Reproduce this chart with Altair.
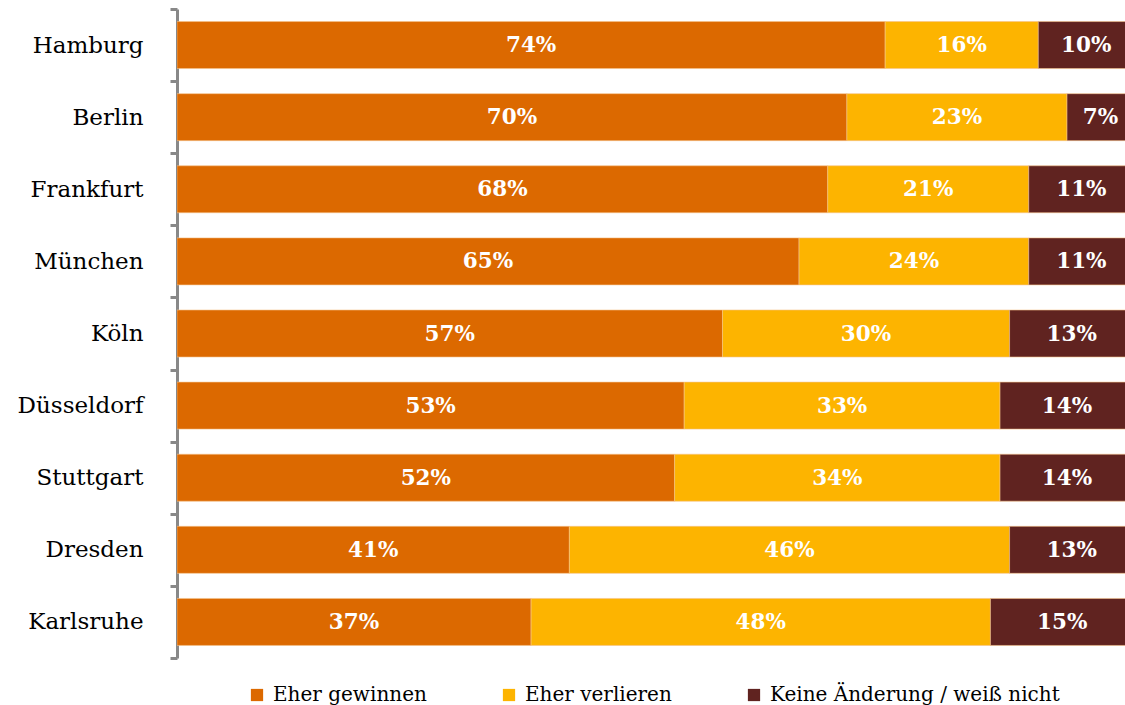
import altair as alt
import pandas as pd

cities = ["Hamburg", "Berlin", "Frankfurt", "München", "Köln", "Düsseldorf", "Stuttgart", "Dresden", "Karlsruhe"]
gewinnen = [74, 70, 68, 65, 57, 53, 52, 41, 37]
verlieren = [16, 23, 21, 24, 30, 33, 34, 46, 48]
keine = [10, 7, 11, 11, 13, 14, 14, 13, 15]
series = ["Eher gewinnen", "Eher verlieren", "Keine Änderung / weiß nicht"]
colors = ["#DC6900", "#FDB400", "#602320"]

rows = []
for i, c in enumerate(cities):
    start = 0
    for k, (s, vals) in enumerate(zip(series, [gewinnen, verlieren, keine])):
        v = vals[i]
        rows.append({"city": c, "series": s, "order": k, "value": v,
                     "x0": start, "x1": start + v, "mid": start + v / 2,
                     "label": f"{v}%"})
        start += v
df = pd.DataFrame(rows)

FONT = "DejaVu Serif"
xscale = alt.Scale(domain=[0, 99.06], nice=False, zero=True)
yaxis = alt.Axis(title=None, domainColor="#888888", domainWidth=3,
                 tickColor="#888888", tickWidth=3, tickSize=7,
                 tickBand="extent", labelFont=FONT, labelFontSize=23,
                 labelColor="#000000", labelPadding=27, grid=False)
yscale = alt.Scale(paddingInner=0, paddingOuter=0)

bars = alt.Chart(df).mark_bar(clip=True, size=47, stroke="#F5C28A", strokeWidth=0.6).encode(
    x=alt.X("x0:Q", scale=xscale, axis=None),
    x2="x1:Q",
    y=alt.Y("city:N", sort=cities, scale=yscale, axis=yaxis),
    color=alt.Color("series:N", sort=series,
                    scale=alt.Scale(domain=series, range=colors),
                    legend=alt.Legend(title=None, orient="none", legendX=70, legendY=676,
                                      direction="horizontal", columns=3,
                                      columnPadding=72, symbolType="square",
                                      symbolSize=150, symbolStrokeWidth=0,
                                      labelFont=FONT, labelFontSize=20,
                                      labelColor="#000000", labelOffset=6,
                                      labelLimit=400)),
)

text = alt.Chart(df).mark_text(font=FONT, fontSize=21.5, fontWeight="bold",
                               color="white", baseline="middle", dy=1).encode(
    x=alt.X("mid:Q", scale=xscale, axis=None),
    y=alt.Y("city:N", sort=cities, scale=yscale, axis=yaxis),
    text="label:N",
)

chart = (bars + text).properties(
    width=948, height=649,
    background="white",
    autosize=alt.AutoSizeParams(type="none"),
    padding={"left": 177, "top": 9, "right": 0, "bottom": 47},
).configure_view(stroke=None, strokeWidth=0)

chart.save("out.html", embed_options={"renderer": "svg", "actions": False})
